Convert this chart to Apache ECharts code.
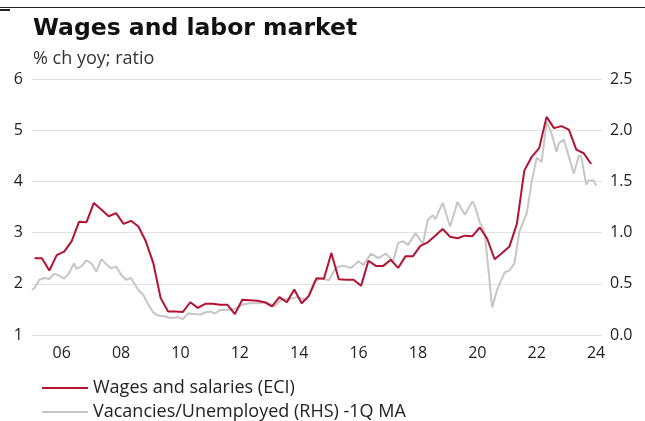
<!DOCTYPE html>
<html>
<head>
<meta charset="utf-8">
<script src="https://cdn.jsdelivr.net/npm/echarts@6/dist/echarts.min.js"></script>
<style>
  html, body { margin: 0; padding: 0; background: #fff; }
  #chart { width: 645px; height: 421px; }
</style>
</head>
<body>
<div id="chart"></div>
<script>
// ECI wages and salaries, % ch yoy, quarterly from 2005Q1
var eciStartYear = 2005
var eciValues = [
  2.50, 2.50, 2.26, 2.56,
  2.63, 2.83, 3.21, 3.20,
  3.58, 3.45, 3.32, 3.38,
  3.17, 3.23, 3.12, 2.83,
  2.41, 1.72, 1.46, 1.46,
  1.45, 1.64, 1.53, 1.61,
  1.61, 1.59, 1.59, 1.41,
  1.69, 1.68, 1.67, 1.64,
  1.56, 1.74, 1.64, 1.89,
  1.62, 1.77, 2.11, 2.10,
  2.60, 2.09, 2.08, 2.08,
  1.96, 2.45, 2.35, 2.35,
  2.47, 2.31, 2.54, 2.54,
  2.74, 2.81, 2.94, 3.07,
  2.92, 2.89, 2.94, 2.93,
  3.10, 2.88, 2.48, 2.60,
  2.73, 3.17, 4.21, 4.48,
  4.65, 5.26, 5.04, 5.08,
  5.01, 4.62, 4.55, 4.34
]

// vacancies / unemployed ratio, 1Q moving average (RHS)
var vacMonths = [
  '2005-01', '2005-02', '2005-04', '2005-06', '2005-08', '2005-10', '2005-12',
  '2006-02', '2006-04', '2006-06', '2006-07', '2006-09', '2006-11',
  '2007-01', '2007-03', '2007-05', '2007-08', '2007-09', '2007-11',
  '2008-01', '2008-03', '2008-05', '2008-08', '2008-10', '2008-12',
  '2009-02', '2009-04', '2009-07', '2009-09', '2009-11', '2009-12',
  '2010-02', '2010-04', '2010-09', '2010-11',
  '2011-01', '2011-03', '2011-05', '2011-07', '2011-11',
  '2012-02', '2012-05', '2012-08', '2012-12',
  '2013-03', '2013-06', '2013-09', '2013-12',
  '2014-04', '2014-07', '2014-09', '2014-10',
  '2015-01', '2015-04', '2015-07', '2015-10',
  '2016-01', '2016-03', '2016-06', '2016-09', '2016-12',
  '2017-03', '2017-05', '2017-07', '2017-09', '2017-12',
  '2018-03', '2018-05', '2018-07', '2018-08', '2018-11',
  '2019-02', '2019-05', '2019-08', '2019-11', '2019-12',
  '2020-02', '2020-04', '2020-07', '2020-09', '2020-12',
  '2021-02', '2021-04', '2021-06', '2021-09', '2021-11',
  '2022-01', '2022-03', '2022-05', '2022-07', '2022-09', '2022-10', '2022-12',
  '2023-04', '2023-06', '2023-07', '2023-09', '2023-10', '2023-12', '2024-01'
]
var vacRatio = [
  0.44, 0.46, 0.54, 0.556, 0.547, 0.60, 0.58,
  0.55, 0.605, 0.70, 0.645, 0.67, 0.73,
  0.70, 0.62, 0.74, 0.67, 0.65, 0.67,
  0.59, 0.54, 0.556, 0.44, 0.39, 0.30,
  0.22, 0.19, 0.18, 0.166, 0.17, 0.175,
  0.155, 0.21, 0.20, 0.22,
  0.23, 0.21, 0.245, 0.245, 0.255,
  0.295, 0.31, 0.31, 0.32,
  0.28, 0.35, 0.35, 0.37,
  0.345, 0.515, 0.545, 0.555,
  0.535, 0.665, 0.675, 0.655,
  0.72, 0.685, 0.795, 0.75, 0.795,
  0.72, 0.90, 0.915, 0.88, 0.995,
  0.89, 1.125, 1.17, 1.13, 1.29,
  1.06, 1.30, 1.175, 1.305, 1.26,
  1.10, 1.00, 0.27, 0.44, 0.61,
  0.63, 0.70, 1.01, 1.19, 1.50,
  1.73, 1.69, 2.08, 1.97, 1.79, 1.875, 1.91,
  1.575, 1.75, 1.745, 1.47, 1.51, 1.51, 1.46
]

var yearTicks = [2006, 2008, 2010, 2012, 2014, 2016, 2018, 2020, 2022, 2024]

var RED = '#b31230'
var GREY = '#c6c6c6'
var FONT = '"Open Sans", "Noto Sans", sans-serif'

// mid-quarter position for the ECI points
var eciData = eciValues.map(function (v, i) {
  var x = eciStartYear + Math.floor(i / 4) + (i % 4) / 4 + 1 / 12
  return [x, v]
})
var vacData = vacMonths.map(function (m, i) {
  var p = m.split('-')
  return [+p[0] + (+p[1] - 1) / 12, vacRatio[i]]
})

function legendAt(top, name) {
  return {
    left: 37,
    top: top,
    itemWidth: 46,
    itemHeight: 2,
    icon: 'rect',
    textStyle: { fontFamily: FONT, fontSize: 18, color: '#222', lineHeight: 20 },
    data: [name]
  }
}

var chart = echarts.init(document.getElementById('chart'))
var option = {
  animation: false,
  backgroundColor: '#fff',
  title: [
    {
      text: 'Wages and labor market',
      left: 28,
      top: 12,
      textStyle: { fontFamily: '"DejaVu Sans", sans-serif', fontWeight: 'bold', fontSize: 23.5, color: '#111' }
    },
    {
      text: '% ch yoy; ratio',
      left: 28,
      top: 45,
      textStyle: { fontFamily: FONT, fontWeight: 'normal', fontSize: 18, color: '#333' }
    }
  ],
  graphic: [
    { type: 'rect', shape: { x: 0, y: 7, width: 645, height: 1 }, style: { fill: '#222' } },
    { type: 'rect', shape: { x: 0, y: 9, width: 10, height: 2 }, style: { fill: '#222' } }
  ],
  legend: [
    legendAt(373, 'Wages and salaries (ECI)'),
    legendAt(397, 'Vacancies/Unemployed (RHS) -1Q MA')
  ],
  grid: { left: 32, right: 43, top: 79, bottom: 86 },
  xAxis: {
    type: 'value',
    min: 2005,
    max: 2024.2,
    axisLine: { show: false },
    axisTick: { show: false },
    splitLine: { show: false },
    axisLabel: {
      customValues: yearTicks,
      margin: 10,
      fontFamily: FONT,
      fontSize: 16,
      color: '#222',
      formatter: function (v) { return String(Math.round(v)).slice(2) }
    }
  },
  yAxis: [
    {
      type: 'value',
      min: 1,
      max: 6,
      interval: 1,
      axisLine: { show: false },
      axisTick: { show: false },
      splitLine: { lineStyle: { color: '#e2e2e2', width: 1 } },
      axisLabel: { margin: 9, fontFamily: FONT, fontSize: 16, color: '#222' }
    },
    {
      type: 'value',
      min: 0,
      max: 2.5,
      interval: 0.5,
      position: 'right',
      axisLine: { show: false },
      axisTick: { show: false },
      splitLine: { show: false },
      axisLabel: {
        margin: 8,
        fontFamily: FONT,
        fontSize: 16,
        color: '#222',
        formatter: function (v) { return v.toFixed(1) }
      }
    }
  ],
  series: [
    {
      name: 'Vacancies/Unemployed (RHS) -1Q MA',
      type: 'line',
      yAxisIndex: 1,
      data: vacData,
      showSymbol: false,
      color: GREY,
      lineStyle: { color: GREY, width: 2 },
      z: 2
    },
    {
      name: 'Wages and salaries (ECI)',
      type: 'line',
      yAxisIndex: 0,
      data: eciData,
      showSymbol: false,
      color: RED,
      lineStyle: { color: RED, width: 2 },
      z: 3
    }
  ]
}
chart.setOption(option)
</script>
</body>
</html>
